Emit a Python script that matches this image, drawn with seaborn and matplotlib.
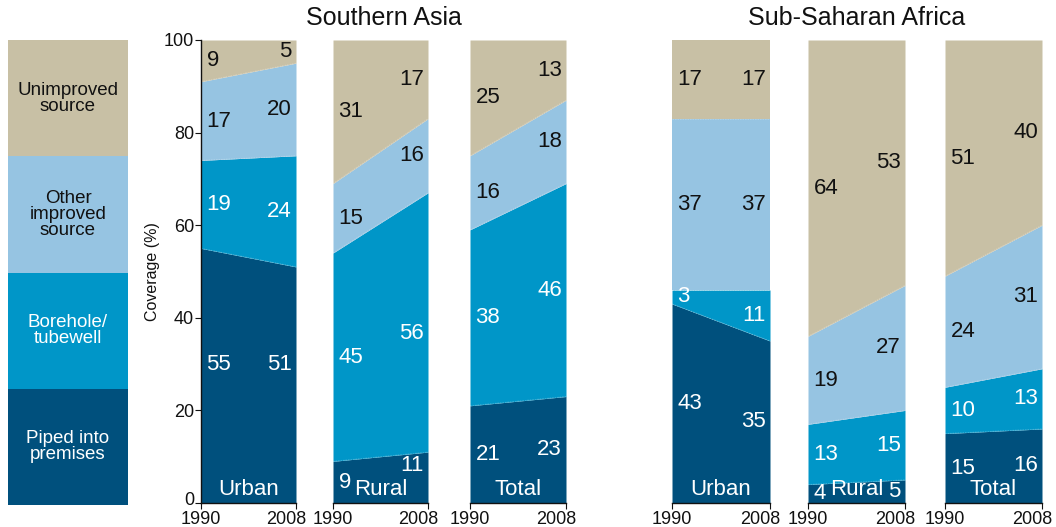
import numpy as np
import pandas as pd
import matplotlib
matplotlib.use("Agg")
import matplotlib.pyplot as plt
import matplotlib.transforms as mtransforms
import seaborn as sns

# Drinking-water coverage (%), rows: piped, borehole, other improved, unimproved; cols: 1990, 2008
years = [1990, 2008]
categories = ["Piped into premises", "Borehole/tubewell", "Other improved source", "Unimproved source"]
legend_labels = ["Piped into\npremises", "Borehole/\ntubewell", "Other\nimproved\nsource", "Unimproved\nsource"]
panel_names = ["Urban", "Rural", "Total"]
region_names = ["Southern Asia", "Sub-Saharan Africa"]

sa_urban = [[55, 51], [19, 24], [17, 20], [9, 5]]
sa_rural = [[9, 11], [45, 56], [15, 16], [31, 17]]
sa_total = [[21, 23], [38, 46], [16, 18], [25, 13]]
ssa_urban = [[43, 35], [3, 11], [37, 37], [17, 17]]
ssa_rural = [[4, 5], [13, 15], [19, 27], [64, 53]]
ssa_total = [[15, 16], [10, 13], [24, 31], [51, 40]]

colors = ["#00507d", "#0096c8", "#96c4e2", "#c8c0a5"]
text_colors = ["white", "white", "#111111", "#111111"]

# vertical label nudges in points: (panel, band, year index) -> dy
label_nudge = {(0, 0, 0): 8, (0, 0, 1): 15, (1, 0, 1): 9, (1, 1, 1): -8}

sns.set_theme(style="white")
plt.rcParams["font.family"] = ["Liberation Sans", "DejaVu Sans"]

fig = plt.figure(figsize=(10.56, 5.27), dpi=100)

W, H = 1056, 527


def px_axes(x0, x1, ytop, ybot):
    return fig.add_axes([x0 / W, 1 - ybot / H, (x1 - x0) / W, (ybot - ytop) / H])


# Legend column
lax = px_axes(8, 128, 40, 505)
for i, (c, lab, tc) in enumerate(zip(colors, legend_labels, text_colors)):
    lax.axhspan(i, i + 1, color=c, lw=0)
    lax.text(0.5, i + 0.5, lab, ha="center", va="center", color=tc,
             fontsize=13.5, linespacing=0.92)
lax.set_xlim(0, 1)
lax.set_ylim(0, 4)
lax.axis("off")

panel_px = [(201, 296), (333, 428), (470, 566), (672, 770), (808, 905), (945, 1042)]
panel_data = [sa_urban, sa_rural, sa_total, ssa_urban, ssa_rural, ssa_total]
panel_labels = panel_names + panel_names

for k, ((x0, x1), data, pname) in enumerate(zip(panel_px, panel_data, panel_labels)):
    ax = px_axes(x0, x1, 40, 503)
    vals = np.array(data, dtype=float)
    tops = np.cumsum(vals, axis=0)
    bottoms = tops - vals
    for i in range(len(categories)):
        ax.fill_between(years, bottoms[i], tops[i], color=colors[i], lw=0)
    # faint separators between bands
    bounds = pd.DataFrame({
        "year": years * 3,
        "value": np.concatenate([tops[0], tops[1], tops[2]]),
        "band": np.repeat([0, 1, 2], 2),
    })
    sns.lineplot(data=bounds, x="year", y="value", units="band", estimator=None,
                 color="white", lw=0.6, alpha=0.25, ls=(0, (2, 1)), ax=ax, legend=False)
    # value labels at each end
    for i in range(len(categories)):
        for j, yr in enumerate(years):
            mid = (bottoms[i, j] + tops[i, j]) / 2
            dx = 4 if j == 0 else -3
            dy = label_nudge.get((k, i, j), 0)
            ax.annotate(f"{int(vals[i, j])}", (yr, mid), xytext=(dx, dy),
                        textcoords="offset points",
                        ha="left" if j == 0 else "right", va="center",
                        fontsize=16, color=text_colors[i])
    ax.text(1999, 0.6, pname, ha="center", va="bottom", fontsize=16, color="white")

    ax.set_xlim(1990, 2008)
    ax.set_ylim(0, 100)
    ax.set_xticks(years)
    ax.set_xticklabels([str(y) for y in years])
    ax.set_xlabel("")
    ax.set_ylabel("")
    for s in ["top", "right"]:
        ax.spines[s].set_visible(False)
    ax.spines["bottom"].set_color("#111111")
    ax.spines["bottom"].set_linewidth(1.0)
    ax.tick_params(axis="x", bottom=True, length=4, width=0.8, color="#111111",
                   labelsize=13, pad=2, labelcolor="#111111")
    xl = ax.get_xticklabels()
    xl[1].set_transform(xl[1].get_transform() +
                        mtransforms.ScaledTranslation(-7 / 72, 0, fig.dpi_scale_trans))
    if k == 0:
        ax.spines["left"].set_color("#111111")
        ax.spines["left"].set_linewidth(1.0)
        ax.set_yticks([0, 20, 40, 60, 80, 100])
        ax.tick_params(axis="y", left=True, length=4, width=0.8, color="#111111",
                       labelsize=13, pad=1, labelcolor="#111111")
        yl = ax.get_yticklabels()
        yl[0].set_transform(yl[0].get_transform() +
                            mtransforms.ScaledTranslation(0, 3 / 72, fig.dpi_scale_trans))
        ax.set_ylabel("Coverage (%)", fontsize=11.5, color="#111111", labelpad=3)
    else:
        ax.spines["left"].set_visible(False)
        ax.set_yticks([])

fig.text((201 + 566) / 2 / W, 1 - 18 / H, region_names[0], ha="center", va="center",
         fontsize=18, color="#111111")
fig.text((672 + 1042) / 2 / W, 1 - 18 / H, region_names[1], ha="center", va="center",
         fontsize=18, color="#111111")

fig.savefig("out.png", dpi=100, facecolor="white")
